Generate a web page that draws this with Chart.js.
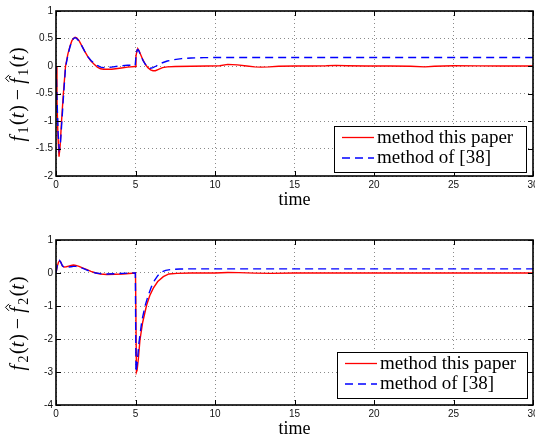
<!DOCTYPE html>
<html><head><meta charset="utf-8">
<script src="https://cdn.jsdelivr.net/npm/chart.js@4/dist/chart.umd.min.js"></script>
<style>
body{margin:0;background:#fff;width:535px;height:441px;overflow:hidden;position:relative}
canvas{position:absolute;left:0}
</style></head><body>
<canvas id="c1" width="535" height="220" style="top:0px"></canvas>
<canvas id="c2" width="535" height="221" style="top:220px"></canvas>
<script>
// ---------- data ----------
const xTickValues = [0, 5, 10, 15, 20, 25, 30];
const y1TickValues = [-2, -1.5, -1, -0.5, 0, 0.5, 1];
const y2TickValues = [-4, -3, -2, -1, 0, 1];
const legendLabels = ['method this paper', 'method of [38]'];
const xTitle = 'time';

// f1 error, method this paper
const t1Red = [0,0.06,0.12,0.19,0.26,0.35,0.45,0.6,0.75,0.88,1.0,1.1,1.2,1.3,1.45,1.6,1.8,2.0,2.2,2.4,2.6,2.8,3.0,3.5,4.0,4.5,4.98,5.03,5.1,5.15,5.22,5.32,5.47,5.62,5.78,5.95,6.1,6.25,6.45,6.7,7.0,7.5,8.5,9.5,10.3,10.8,11.4,12.0,12.5,12.9,13.4,14.0,15.0,16.0,17.0,17.6,18.3,19.5,21.0,22.3,23.2,23.8,25.0,26.5,28.0,30];
const y1Red = [0,-0.6,-1.25,-1.65,-1.45,-1.0,-0.55,0.0,0.22,0.36,0.46,0.5,0.52,0.51,0.46,0.38,0.27,0.17,0.09,0.03,-0.02,-0.05,-0.06,-0.06,-0.04,-0.02,-0.01,0.18,0.29,0.31,0.28,0.21,0.11,0.03,-0.03,-0.07,-0.085,-0.085,-0.06,-0.03,-0.015,-0.01,-0.005,0,0.005,0.03,0.02,0.0,-0.015,-0.02,-0.015,-0.005,0,0,0.005,0.012,0.005,0,0,-0.005,-0.015,-0.005,0.005,0.003,0,0];
// f1 error, method of [38]
const t1Blue = [0,0.06,0.13,0.2,0.27,0.36,0.46,0.6,0.75,0.88,1.0,1.1,1.2,1.3,1.45,1.6,1.8,2.0,2.2,2.4,2.6,2.8,3.0,3.5,4.0,4.5,4.98,5.03,5.1,5.15,5.22,5.32,5.47,5.62,5.78,5.95,6.1,6.3,6.6,7.0,7.4,7.9,8.5,9.3,10.5,30];
const y1Blue = [0,-0.55,-1.2,-1.52,-1.45,-1.05,-0.6,-0.02,0.2,0.35,0.45,0.5,0.515,0.5,0.45,0.38,0.27,0.17,0.1,0.05,0.01,-0.02,-0.03,-0.02,0.0,0.015,0.01,0.18,0.29,0.3,0.27,0.2,0.1,0.03,-0.02,-0.04,-0.03,0.0,0.05,0.09,0.115,0.135,0.145,0.152,0.155,0.155];
// f2 error, method this paper
const t2Red = [0,0.08,0.15,0.22,0.3,0.4,0.5,0.65,0.8,0.95,1.1,1.25,1.45,1.7,1.95,2.2,2.5,2.8,3.2,3.7,4.2,4.6,5.0,5.06,5.1,5.18,5.28,5.45,5.7,5.9,6.12,6.4,6.75,7.1,7.6,8.5,10,10.8,11.5,12.5,13.5,15,18,21,24,27,30];
const y2Red = [0,0.2,0.32,0.37,0.33,0.22,0.18,0.19,0.21,0.23,0.24,0.23,0.2,0.15,0.1,0.05,0.0,-0.03,-0.045,-0.04,-0.03,-0.015,0.0,-3.0,-2.95,-2.6,-2.03,-1.5,-0.97,-0.68,-0.46,-0.26,-0.11,-0.03,-0.01,0,0,0.015,0.01,-0.005,-0.01,0,0,0,0,0,0];
// f2 error, method of [38]
const t2Blue = [0,0.08,0.15,0.22,0.3,0.4,0.5,0.65,0.8,0.95,1.1,1.25,1.45,1.7,1.95,2.2,2.5,2.8,3.2,3.7,4.2,4.6,4.99,5.03,5.1,5.22,5.4,5.6,5.8,6.0,6.2,6.4,6.6,6.9,7.3,7.8,8.5,30];
const y2Blue = [0,0.22,0.34,0.38,0.33,0.22,0.18,0.18,0.18,0.19,0.2,0.2,0.18,0.14,0.09,0.04,0.0,-0.02,-0.03,-0.02,-0.01,0.0,0.0,-3.0,-2.75,-2.1,-1.45,-1.0,-0.68,-0.42,-0.22,-0.08,0.02,0.08,0.11,0.12,0.125,0.125];

// ---------- drawing helpers ----------
Chart.defaults.font.family = '"Liberation Sans", Arial, sans-serif';
const SERIF = '"Liberation Serif", "Times New Roman", serif';

function pts(ts, ys) { return ts.map((t, i) => ({x: t, y: ys[i]})); }

function drawYLabel(ctx, cx, cy, sub) {
  const big = 'italic 20px ' + SERIF, up = '20px ' + SERIF, small = '14px ' + SERIF;
  const segs = [
    ['f', big, 0, 2.5, false], [sub, small, 4, 1.5, false], ['(', up, 0, 0, false], ['t', big, 0, 1, false], [')', up, 0, 0, false],
    [' \u2212 ', up, 0, 0, false],
    ['f', big, 0, 2.5, true], [sub, small, 4, 1.5, false], ['(', up, 0, 0, false], ['t', big, 0, 1, false], [')', up, 0, 0, false]
  ];
  ctx.save();
  ctx.translate(cx, cy);
  ctx.rotate(-Math.PI / 2);
  ctx.fillStyle = '#000';
  ctx.textBaseline = 'alphabetic';
  let total = 0;
  const widths = segs.map(s => { ctx.font = s[1]; const w = ctx.measureText(s[0]).width + s[3]; total += w; return w; });
  let x = -total / 2;
  segs.forEach((s, i) => {
    ctx.font = s[1];
    ctx.fillText(s[0], x, s[2]);
    if (s[4]) {
      const c = x + widths[i] / 2 + 1.5;
      ctx.beginPath();
      ctx.lineWidth = 1;
      ctx.strokeStyle = '#000';
      ctx.moveTo(c - 3.5, -15);
      ctx.lineTo(c, -18.5);
      ctx.lineTo(c + 3.5, -15);
      ctx.stroke();
    }
    x += widths[i];
  });
  ctx.restore();
}

function framePlugin(cfg) {
  return {
    id: 'frame' + cfg.sub,
    afterDraw(chart) {
      const {ctx, chartArea: a, scales} = chart;
      const xs = scales.x, ys = scales.y;
      ctx.save();
      // inward ticks
      ctx.strokeStyle = '#000';
      ctx.lineWidth = 1;
      ctx.beginPath();
      xTickValues.forEach(v => {
        const p = Math.round(xs.getPixelForValue(v)) + 0.5;
        ctx.moveTo(p, a.bottom); ctx.lineTo(p, a.bottom - 5);
        ctx.moveTo(p, a.top); ctx.lineTo(p, a.top + 5);
      });
      cfg.yTicks.forEach(v => {
        const p = Math.round(ys.getPixelForValue(v)) + 0.5;
        ctx.moveTo(a.left, p); ctx.lineTo(a.left + 5, p);
        ctx.moveTo(a.right, p); ctx.lineTo(a.right - 5, p);
      });
      ctx.stroke();
      // frame
      ctx.lineWidth = 1.6;
      ctx.strokeRect(a.left, a.top, a.right - a.left, a.bottom - a.top);
      // x title
      ctx.fillStyle = '#000';
      ctx.font = '18px ' + SERIF;
      ctx.textAlign = 'center';
      ctx.textBaseline = 'alphabetic';
      ctx.fillText(xTitle, (a.left + a.right) / 2, cfg.titleY);
      // y title
      ctx.textAlign = 'left';
      drawYLabel(ctx, 24, (a.top + a.bottom) / 2 + 1, cfg.sub);
      // legend
      const L = cfg.legend;
      const bx = a.right - L.dr - L.w, by = a.bottom - L.db - L.h;
      ctx.fillStyle = '#fff';
      ctx.fillRect(bx, by, L.w, L.h);
      ctx.lineWidth = 1;
      ctx.strokeStyle = '#000';
      ctx.strokeRect(bx + 0.5, by + 0.5, L.w, L.h);
      const rows = [
        {y: by + 11.5, color: '#ff0000', dash: []},
        {y: by + 32, color: '#0000ff', dash: [8, 5]}
      ];
      ctx.font = '19px ' + SERIF;
      ctx.textAlign = 'left';
      rows.forEach((r, i) => {
        ctx.beginPath();
        ctx.setLineDash(r.dash);
        ctx.strokeStyle = r.color;
        ctx.lineWidth = 1.3;
        ctx.moveTo(bx + 8, r.y); ctx.lineTo(bx + 40, r.y);
        ctx.stroke();
        ctx.setLineDash([]);
        ctx.fillStyle = '#000';
        ctx.fillText(legendLabels[i], bx + 43, r.y + 5);
      });
      ctx.restore();
    }
  };
}

function makeChart(id, cfg) {
  const tickSetter = vals => scale => { scale.ticks = vals.map(v => ({value: v})); };
  const fmt = v => String(v);
  return new Chart(document.getElementById(id), {
    type: 'line',
    data: {
      datasets: [
        {label: legendLabels[0], data: pts(cfg.rt, cfg.ry), borderColor: '#ff0000', borderWidth: 1.4, pointRadius: 0, tension: 0, order: 2},
        {label: legendLabels[1], data: pts(cfg.bt, cfg.by), borderColor: '#0000ff', borderWidth: 1.4, borderDash: [8, 5], pointRadius: 0, tension: 0, order: 1}
      ]
    },
    options: {
      responsive: false,
      animation: false,
      devicePixelRatio: 1,
      layout: {padding: {top: cfg.padTop, right: 2, left: 0, bottom: 0}},
      plugins: {legend: {display: false}, tooltip: {enabled: false}},
      scales: {
        x: {
          type: 'linear', min: 0, max: 30,
          afterBuildTicks: tickSetter(xTickValues),
          afterFit: s => { s.height = cfg.xH; s.paddingLeft = 0; s.paddingRight = 0; },
          grid: {color: '#8a8a8a', lineWidth: 1, drawTicks: false},
          border: {display: false, dash: [1, 3]},
          ticks: {padding: 3, color: '#111', font: {size: 10}, maxRotation: 0, callback: fmt}
        },
        y: {
          type: 'linear', min: cfg.yMin, max: cfg.yMax,
          afterBuildTicks: tickSetter(cfg.yTicks),
          afterFit: s => { s.width = 56; s.paddingTop = 0; s.paddingBottom = 0; },
          grid: {color: '#8a8a8a', lineWidth: 1, drawTicks: false},
          border: {display: false, dash: [1, 3]},
          ticks: {padding: 3, color: '#111', font: {size: 10}, callback: fmt}
        }
      }
    },
    plugins: [framePlugin(cfg)]
  });
}

makeChart('c1', {
  sub: '1', rt: t1Red, ry: y1Red, bt: t1Blue, by: y1Blue,
  yMin: -2, yMax: 1, yTicks: y1TickValues,
  padTop: 11, xH: 44, titleY: 205,
  legend: {w: 192, h: 46, dr: 7, db: 4}
});
makeChart('c2', {
  sub: '2', rt: t2Red, ry: y2Red, bt: t2Blue, by: y2Blue,
  yMin: -4, yMax: 1, yTicks: y2TickValues,
  padTop: 20, xH: 36, titleY: 214,
  legend: {w: 190, h: 46, dr: 6, db: 7}
});
</script>
</body></html>
